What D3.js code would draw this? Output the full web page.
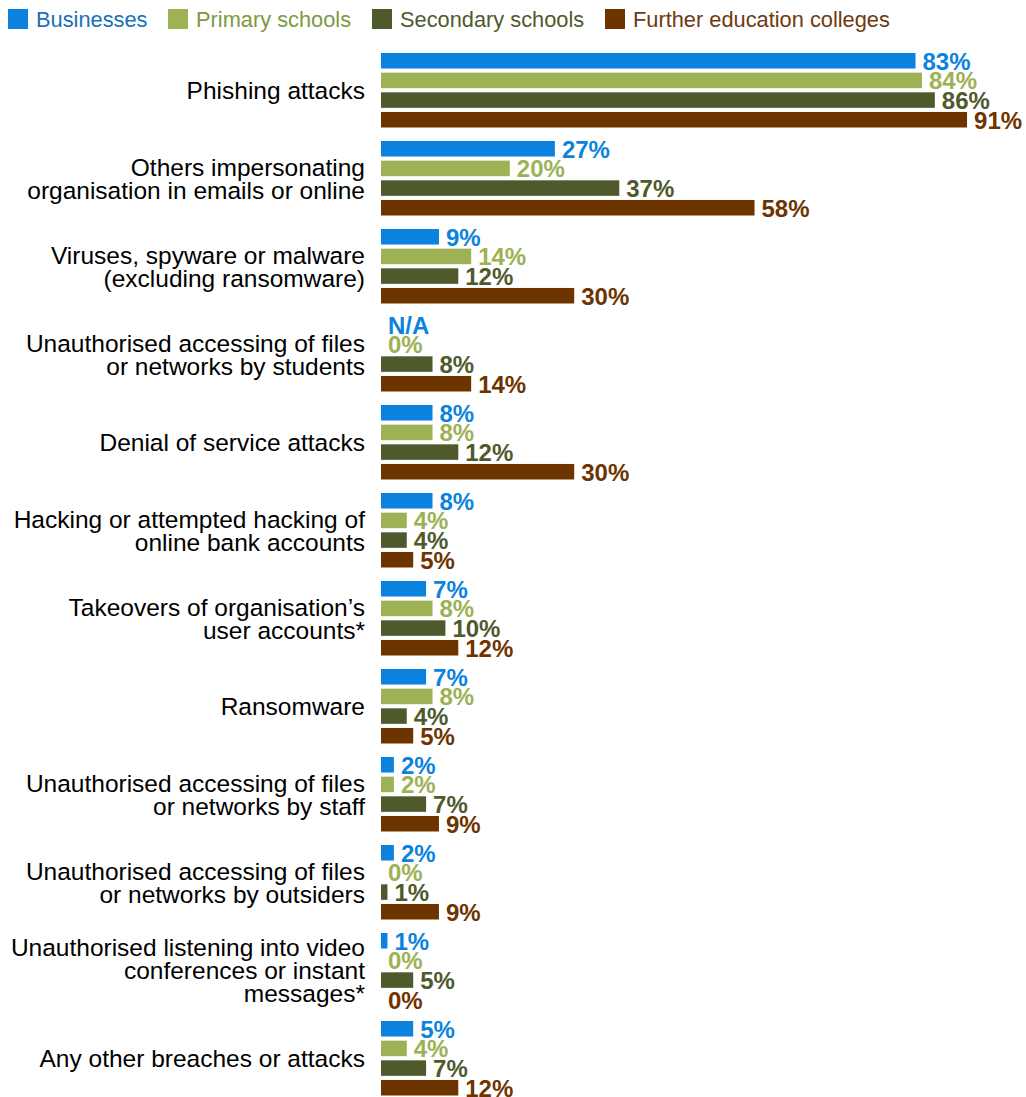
<!DOCTYPE html>
<html>

<head>
    <script src="https://d3js.org/d3.v7.min.js"></script>
    <style>
        body { margin: 0; background: #fff; }
        text { font-family: "Liberation Sans", Arial, sans-serif; }
    </style>
    <script>
        const w = 1026
        const h = 1097
        // category labels, one entry per line of text
        const categories = [
            ["Phishing attacks"],
            ["Others impersonating", "organisation in emails or online"],
            ["Viruses, spyware or malware", "(excluding ransomware)"],
            ["Unauthorised accessing of files", "or networks by students"],
            ["Denial of service attacks"],
            ["Hacking or attempted hacking of", "online bank accounts"],
            ["Takeovers of organisation\u2019s", "user accounts*"],
            ["Ransomware"],
            ["Unauthorised accessing of files", "or networks by staff"],
            ["Unauthorised accessing of files", "or networks by outsiders"],
            ["Unauthorised listening into video", "conferences or instant", "messages*"],
            ["Any other breaches or attacks"]
        ]
        const series = ["Businesses", "Primary schools", "Secondary schools", "Further education colleges"]
        // null = N/A
        const businesses = [83, 27, 9, null, 8, 8, 7, 7, 2, 2, 1, 5]
        const primarySchools = [84, 20, 14, 0, 8, 4, 8, 8, 2, 0, 0, 4]
        const secondarySchools = [86, 37, 12, 8, 12, 4, 10, 4, 7, 1, 5, 7]
        const feColleges = [91, 58, 30, 14, 30, 5, 12, 5, 9, 9, 0, 12]

        const barColors = ["#0b83de", "#9cb255", "#4e5a2c", "#6e3400"]
        const legendTextColors = ["#1c6fbd", "#7d9a42", "#4e5a2c", "#6e3a10"]
        const legendX = [8, 168, 372, 605]

        function doSVG() {
            const svg = d3.select("body").append("svg")
                .attr("width", w)
                .attr("height", h)

            const catIds = categories.map((c, i) => i)
            const table = catIds.map(i => [businesses[i], primarySchools[i], secondarySchools[i], feColleges[i]])

            const x = d3.scaleLinear().domain([0, 100]).range([381, 381 + 644])
            const y0 = d3.scaleBand().domain(catIds).range([53, 53 + 88 * categories.length])
            const y1 = d3.scaleBand().domain(d3.range(series.length)).range([0, 74.5]).paddingInner(0.21)

            // legend
            const legend = svg.append("g")
            series.forEach((s, i) => {
                legend.append("rect")
                    .attr("x", legendX[i]).attr("y", 9)
                    .attr("width", 20).attr("height", 20)
                    .attr("fill", barColors[i])
                legend.append("text")
                    .attr("x", legendX[i] + 28).attr("y", 27)
                    .attr("font-size", 21.8)
                    .attr("fill", legendTextColors[i])
                    .text(s)
            })

            const groups = svg.selectAll(".grp")
                .data(catIds)
                .join("g")
                .attr("class", "grp")
                .attr("transform", d => `translate(0, ${y0(d)})`)

            // category labels
            groups.append("text")
                .attr("text-anchor", "end")
                .attr("font-size", 24.5)
                .attr("fill", "#000")
                .selectAll("tspan")
                .data(d => categories[d].map((line, j) => ({ line, j, n: categories[d].length })))
                .join("tspan")
                .attr("x", 365)
                .attr("y", t => 37 + 9 + (t.j - (t.n - 1) / 2) * 23)
                .text(t => t.line)

            const cells = groups.selectAll(".cell")
                .data(d => table[d].map((v, k) => ({ v, k })))
                .join("g")
                .attr("class", "cell")

            cells.filter(c => c.v)
                .append("rect")
                .attr("x", x(0))
                .attr("y", c => y1(c.k))
                .attr("width", c => x(c.v) - x(0))
                .attr("height", y1.bandwidth())
                .attr("fill", c => barColors[c.k])

            cells.append("text")
                .attr("x", c => x(c.v ?? 0) + 7)
                .attr("y", c => y1(c.k) + y1.bandwidth() / 2 + 9)
                .attr("font-size", 24)
                .attr("font-weight", "bold")
                .attr("fill", c => barColors[c.k])
                .text(c => c.v == null ? "N/A" : c.v + "%")
        }
    </script>
</head>

<body onload="doSVG()">
</body>

</html>
